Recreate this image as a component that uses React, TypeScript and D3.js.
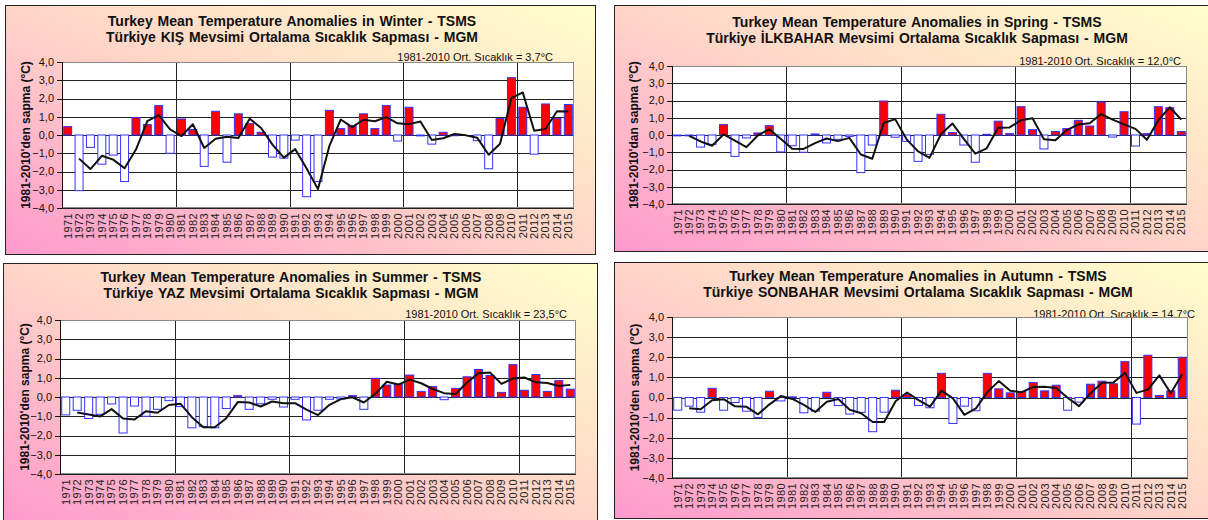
import React from 'react';
import * as d3 from 'd3';

// categories
const years = d3.range(1971, 2016);

// seasonal anomalies (°C vs 1981-2010)
const winter = [
  0.46, -3.05, -0.68, -1.6, -1.1, -2.55, 0.95, 0.57, 1.61, -1.0,
  0.88, 0.3, -1.72, 1.3, -1.49, 1.16, 0.62, 0.15, -1.21, -1.27,
  -0.28, -3.38, -2.55, 1.35, 0.35, 0.51, 1.16, 0.35, 1.61, -0.33,
  1.52, -0.05, -0.5, 0.15, -0.04, 0.0, -0.31, -1.85, 0.9, 3.14,
  1.52, -1.05, 1.7, 0.9, 1.67,
];
const spring = [
  -0.05, -0.05, -0.7, -0.54, 0.6, -1.24, -0.17, 0.12, 0.54, -0.98,
  -0.62, -1.0, 0.06, -0.46, -0.25, -0.08, -2.18, -0.58, 1.97, -0.13,
  -0.37, -1.53, -1.12, 1.2, 0.14, -0.58, -1.58, 0.04, 0.8, 0.08,
  1.64, 0.31, -0.81, 0.2, 0.37, 0.85, 0.52, 1.91, -0.12, 1.35,
  -0.64, 0.08, 1.64, 1.58, 0.2,
];
const summer = [
  -0.93, -0.69, -1.12, -0.9, -0.36, -1.87, -0.47, -1.0, -0.64, -0.19,
  -0.5, -1.6, -1.54, -1.6, -0.6, 0.07, -0.64, -0.35, -0.12, -0.52,
  -0.12, -1.19, -0.69, -0.12, -0.1, 0.07, -0.64, 0.97, 0.62, 0.67,
  1.14, 0.29, 0.54, -0.14, 0.45, 1.05, 1.43, 1.12, 0.24, 1.68,
  0.35, 1.17, 0.29, 0.85, 0.41,
];
const autumn = [
  -0.63, -0.43, -0.73, 0.46, -0.63, -0.25, -0.68, -0.99, 0.31, -0.17,
  0.03, -0.76, -0.68, 0.26, -0.4, -0.82, -0.74, -1.7, -0.73, 0.36,
  0.14, -0.4, -0.51, 1.2, -1.29, -0.43, -0.66, 1.2, 0.43, 0.23,
  0.3, 0.74, 0.33, 0.61, -0.63, -0.23, 0.66, 0.81, 0.68, 1.78,
  -1.32, 2.1, 0.1, 0.33, 2.0,
];

const yTicks = [4, 3, 2, 1, 0, -1, -2, -3, -4];

const titlesEn = [
  'Turkey Mean Temperature Anomalies in Winter - TSMS',
  'Turkey Mean Temperature Anomalies in Spring - TSMS',
  'Turkey Mean Temperature Anomalies in Summer - TSMS',
  'Turkey Mean Temperature Anomalies in Autumn  - TSMS',
];
const titlesTr = [
  'Türkiye  KIŞ Mevsimi Ortalama Sıcaklık Sapması - MGM',
  'Türkiye İLKBAHAR Mevsimi Ortalama Sıcaklık Sapması - MGM',
  'Türkiye  YAZ Mevsimi Ortalama Sıcaklık Sapması - MGM',
  'Türkiye SONBAHAR Mevsimi Ortalama Sıcaklık Sapması - MGM',
];
const normals = ['3,7', '12,0', '23,5', '14,7'];
const yTitles = [
  "1981-2010'den sapma (°C)",
  "1981-2010'dan sapma (°C)",
  "1981-2010'den sapma (°C)",
  "1981-2010'den sapma (°C)",
];

const fmt = d3.formatLocale({ decimal: ',', thousands: '.', grouping: [3], currency: ['', ''] }).format('.1f');
const FONT = "'Liberation Sans', Arial, sans-serif";

// layout of the four boxes (panel frame, plot area, text anchors)
const layout = [
  { box: [5.5, 5.5, 590, 249], plot: [62, 62, 512, 146], tx: 292, ty: 26, sx: 553, sy: 61, lx: 26 },
  { box: [614.5, 5.5, 600, 246], plot: [672, 66, 515, 138], tx: 917, ty: 27, sx: 1181, sy: 65, lx: 634 },
  { box: [3.5, 263.5, 594, 262], plot: [60, 320, 516, 154], tx: 291, ty: 282, sx: 567, sy: 318, lx: 25 },
  { box: [614.5, 262.5, 600, 256], plot: [672, 317, 516, 161], tx: 918, ty: 281, sx: 1195, sy: 318, lx: 635 },
];

// Excel trendline of the source: 2-period moving average of the bars
function movingAverage(values: number[]) {
  return values.slice(1).map((v, i) => ({ i: i + 1, v: (v + values[i]) / 2 }));
}

function Panel({ idx, data }: { idx: number; data: number[] }) {
  const L = layout[idx];
  const [bx, by, bw, bh] = L.box;
  const [px, py, pw, ph] = L.plot;
  const x = d3.scaleBand<number>().domain(years).range([px, px + pw]).paddingInner(0.3).paddingOuter(0.15);
  const y = d3.scaleLinear().domain([-4, 4]).range([py + ph, py]);
  const step = x.step();
  const gid = `bg${idx}`;
  const line = d3
    .line<{ i: number; v: number }>()
    .x((d) => (x(years[d.i]) as number) + x.bandwidth() / 2)
    .y((d) => y(d.v));
  const dividers = [1981, 1991, 2001, 2011];

  return (
    <g>
      <defs>
        <linearGradient id={gid} x1="0" y1="1" x2="1" y2="0">
          <stop offset="0" stopColor="#ff99cc" />
          <stop offset="0.5" stopColor="#ffd5c8" />
          <stop offset="1" stopColor="#ffffcc" />
        </linearGradient>
      </defs>
      <rect x={bx} y={by} width={bw} height={bh} fill={`url(#${gid})`} stroke="#222" strokeWidth={1} />
      <text x={L.tx} y={L.ty} textAnchor="middle" fontFamily={FONT} fontWeight="bold" fontSize={14} wordSpacing={1} fill="#111">
        {titlesEn[idx]}
      </text>
      <text x={L.tx} y={L.ty + 16} textAnchor="middle" fontFamily={FONT} fontWeight="bold" fontSize={14} wordSpacing={1} fill="#111">
        {titlesTr[idx]}
      </text>
      <text x={L.sx} y={L.sy} textAnchor="end" fontFamily={FONT} fontSize={11} fill="#111">
        {`1981-2010 Ort. Sıcaklık = ${normals[idx]}°C`}
      </text>

      <rect x={px} y={py} width={pw} height={ph} fill="#fff" />
      {yTicks.map((t) => (
        <line key={t} x1={px} x2={px + pw} y1={Math.round(y(t)) + 0.5} y2={Math.round(y(t)) + 0.5} stroke="#222" strokeWidth={1} />
      ))}
      {dividers.map((yr) => {
        const xx = Math.round((x(yr) as number) - step * 0.15) + 0.5;
        return <line key={yr} x1={xx} x2={xx} y1={py} y2={py + ph} stroke="#222" strokeWidth={1} />;
      })}

      {data.map((v, i) => {
        const x0 = x(years[i]) as number;
        const top = y(Math.max(0, v));
        const h = Math.abs(y(v) - y(0));
        return (
          <rect
            key={i}
            x={x0}
            y={top}
            width={x.bandwidth()}
            height={h}
            fill={v > 0 ? '#ff0000' : '#ffffff'}
            stroke="#3333ff"
            strokeWidth={1}
          />
        );
      })}

      <path d={line(movingAverage(data)) || ''} fill="none" stroke="#111" strokeWidth={2} strokeLinejoin="round" />

      <rect x={px + 0.5} y={py + 0.5} width={pw - 1} height={ph - 1} fill="none" stroke="#888" strokeWidth={1} />
      <line x1={px + 0.5} x2={px + 0.5} y1={py} y2={py + ph} stroke="#111" />
      {yTicks.map((t) => (
        <g key={t}>
          <line x1={px - 5} x2={px} y1={Math.round(y(t)) + 0.5} y2={Math.round(y(t)) + 0.5} stroke="#111" />
          <text x={px - 8} y={y(t)} dy="0.35em" textAnchor="end" fontFamily={FONT} fontSize={11} fill="#111">
            {fmt(t)}
          </text>
        </g>
      ))}

      {years.map((yr) => {
        const cx = (x(yr) as number) + x.bandwidth() / 2;
        return (
          <text
            key={yr}
            transform={`translate(${cx},${py + ph + 5}) rotate(-90)`}
            dy="0.35em"
            textAnchor="end"
            fontFamily={FONT}
            fontSize={11}
            letterSpacing={0.4}
            fill="#222"
          >
            {yr}
          </text>
        );
      })}

      <text
        transform={`translate(${L.lx},${py + ph / 2}) rotate(-90)`}
        dy="0.35em"
        textAnchor="middle"
        fontFamily={FONT}
        fontWeight="bold"
        fontSize={12}
        fill="#111"
      >
        {yTitles[idx]}
      </text>
    </g>
  );
}

export default function App() {
  const series = [winter, spring, summer, autumn];
  return (
    <svg width={1208} height={520} style={{ position: 'absolute', left: 0, top: 0, display: 'block', background: '#fff' }}>
      {series.map((s, i) => (
        <Panel key={i} idx={i} data={s} />
      ))}
    </svg>
  );
}
